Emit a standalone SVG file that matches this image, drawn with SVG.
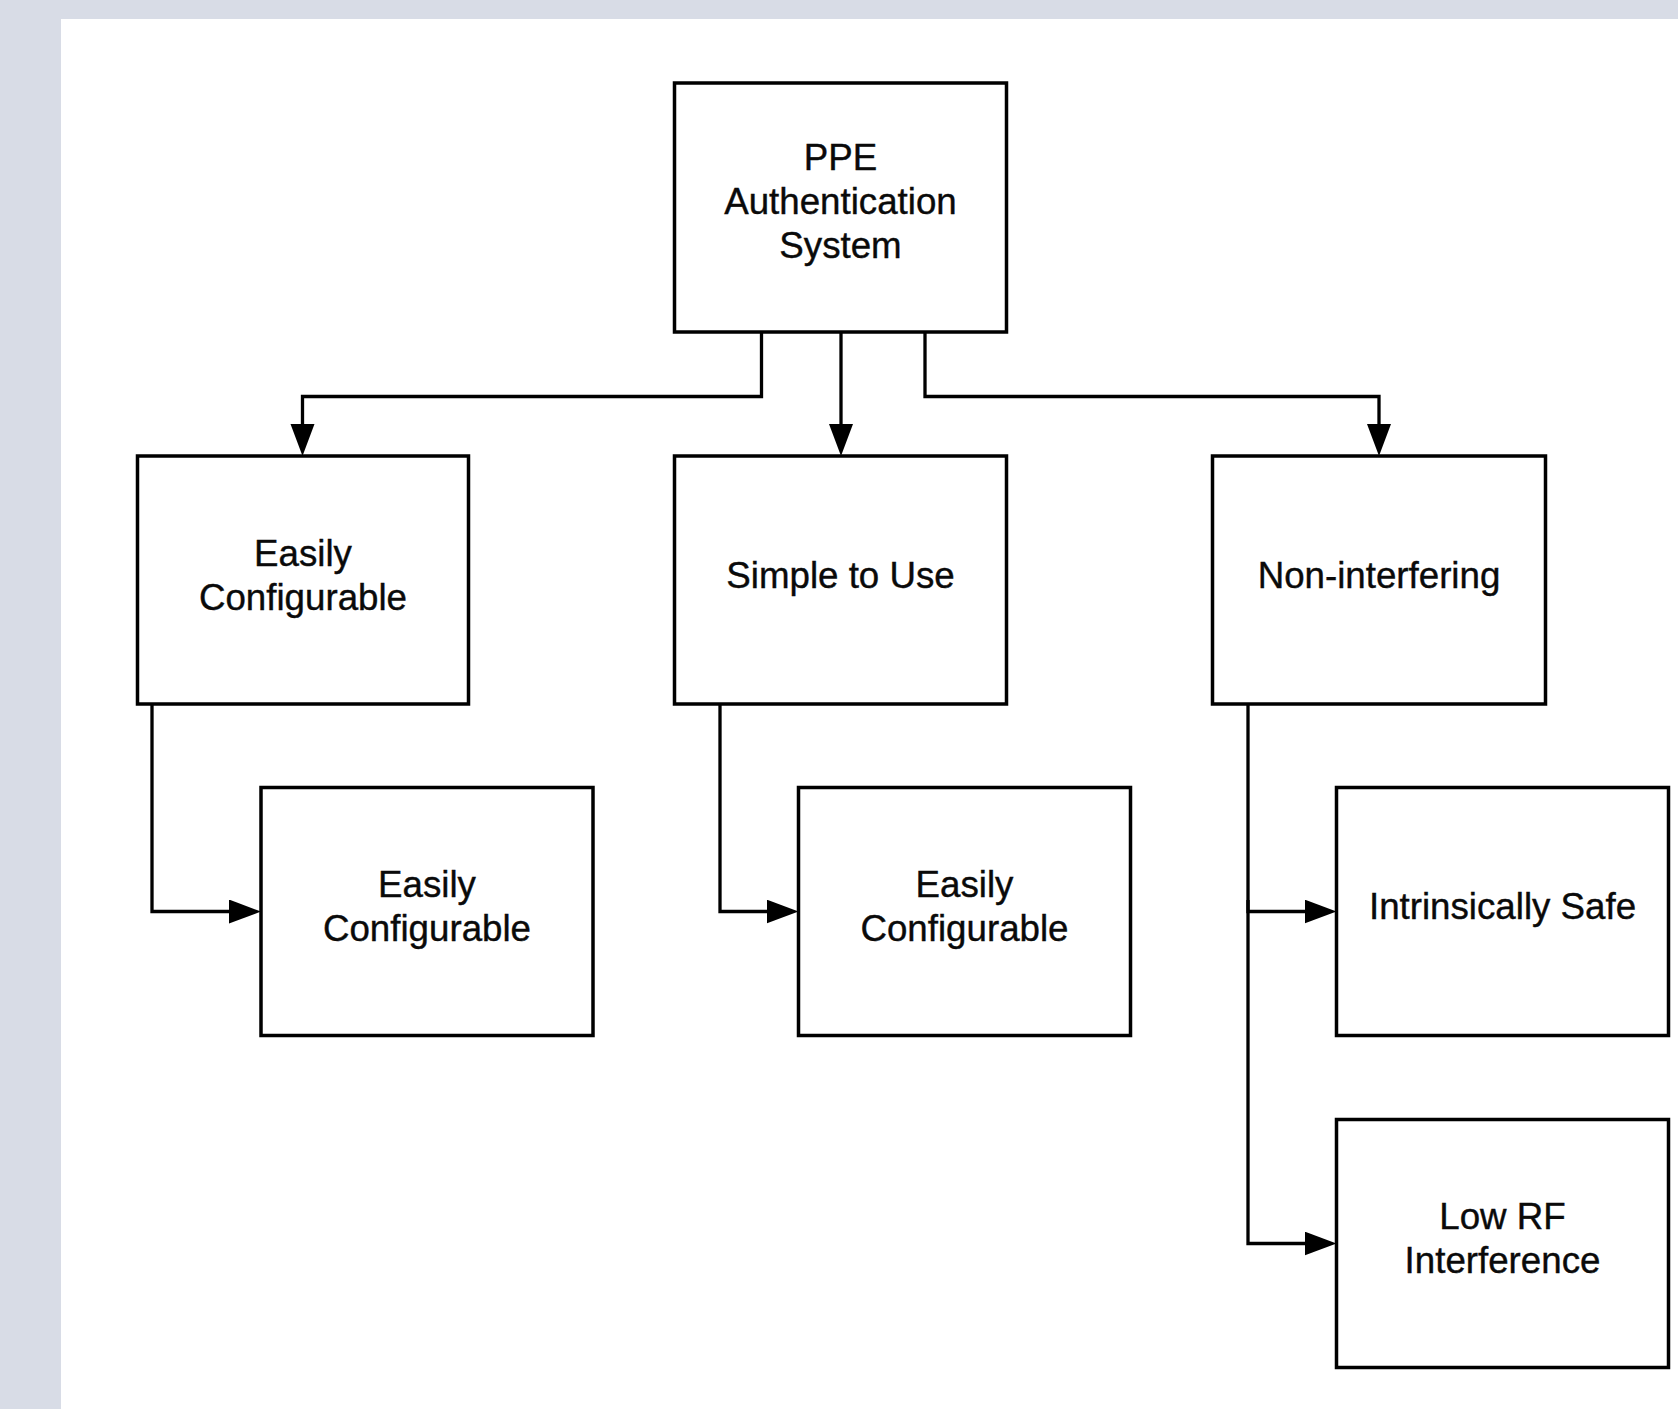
<svg xmlns="http://www.w3.org/2000/svg" width="1678" height="1409" viewBox="0 0 1678 1409">
<style>
.box{fill:#fff;stroke:#000;stroke-width:3.5}
.lbl{font-family:"Liberation Sans",Arial,sans-serif;font-size:36.7px;fill:#0a0a0a;stroke:#0a0a0a;stroke-width:0.4;text-anchor:middle}
.edge{fill:none;stroke:#000;stroke-width:3.3}
</style>
<defs>
<marker id="arr" markerUnits="userSpaceOnUse" markerWidth="34" markerHeight="26" refX="22" refY="12" orient="auto">
<path d="M0,0 L32,12 L0,24 Z" fill="#000"/>
</marker>
</defs>
<rect x="0" y="0" width="1678" height="1409" fill="#D8DCE6"/>
<rect x="61" y="19" width="1617" height="1390" fill="#fff"/>
<g id="connectors">
<path class="edge" d="M761.5,332 V396.5 H302.5 V446" marker-end="url(#arr)"/>
<path class="edge" d="M841,332 V446" marker-end="url(#arr)"/>
<path class="edge" d="M925,332 V396.5 H1379 V446" marker-end="url(#arr)"/>
<path class="edge" d="M152,704 V911.5 H251" marker-end="url(#arr)"/>
<path class="edge" d="M720,704 V911.5 H788.5" marker-end="url(#arr)"/>
<path class="edge" d="M1248,704 V911.5 H1326.5" marker-end="url(#arr)"/>
<path class="edge" d="M1248,900 V1243.5 H1326.5" marker-end="url(#arr)"/>
</g>
<g id="node-ppe">
<rect class="box" x="674.5" y="83" width="332" height="249"/>
<text class="lbl" x="840.5" y="170">PPE</text>
<text class="lbl" x="840.5" y="214">Authentication</text>
<text class="lbl" x="840.5" y="258">System</text>
</g>
<g id="node-easily1">
<rect class="box" x="137.5" y="456" width="331" height="248"/>
<text class="lbl" x="303" y="566">Easily</text>
<text class="lbl" x="303" y="610">Configurable</text>
</g>
<g id="node-simple">
<rect class="box" x="674.5" y="456" width="332" height="248"/>
<text class="lbl" x="840.5" y="588">Simple to Use</text>
</g>
<g id="node-noninterfering">
<rect class="box" x="1212.5" y="456" width="333" height="248"/>
<text class="lbl" x="1379" y="588">Non-interfering</text>
</g>
<g id="node-easily2">
<rect class="box" x="261" y="787.5" width="332" height="248"/>
<text class="lbl" x="427" y="897">Easily</text>
<text class="lbl" x="427" y="941">Configurable</text>
</g>
<g id="node-easily3">
<rect class="box" x="798.5" y="787.5" width="332" height="248"/>
<text class="lbl" x="964.5" y="897">Easily</text>
<text class="lbl" x="964.5" y="941">Configurable</text>
</g>
<g id="node-intrinsic">
<rect class="box" x="1336.5" y="787.5" width="332" height="248"/>
<text class="lbl" x="1502.5" y="919">Intrinsically Safe</text>
</g>
<g id="node-lowrf">
<rect class="box" x="1336.5" y="1119.5" width="332" height="248"/>
<text class="lbl" x="1502.5" y="1228.5">Low RF</text>
<text class="lbl" x="1502.5" y="1272.5">Interference</text>
</g>
</svg>
